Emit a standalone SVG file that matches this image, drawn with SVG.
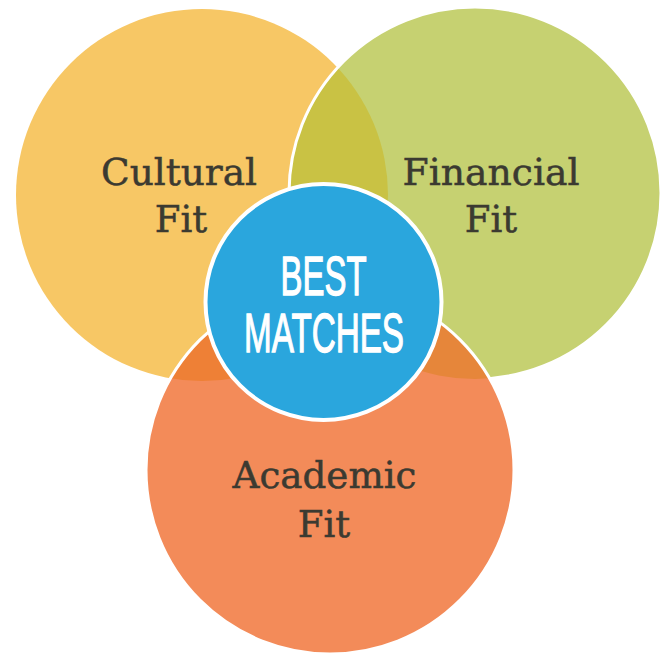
<svg xmlns="http://www.w3.org/2000/svg" width="667" height="657" viewBox="0 0 667 657">
<style>
.lbl{font-family:"DejaVu Serif","Liberation Serif",serif;font-size:37px;fill:#3b3a31;stroke:#3b3a31;stroke-width:0.5;text-anchor:middle}
.ctr{font-family:"Liberation Sans","DejaVu Sans",sans-serif;font-size:56px;fill:#ffffff;stroke:#ffffff;stroke-width:1.3;text-anchor:middle}
.edge{fill:none;stroke:#ffffff;stroke-width:3}
</style>
<defs>
<clipPath id="clipF"><circle cx="475" cy="193" r="186"/></clipPath>
<clipPath id="clipA"><circle cx="330" cy="470" r="184"/></clipPath>
</defs>
<rect width="667" height="657" fill="#ffffff"/>
<g id="cultural">
<circle cx="202" cy="195" r="186" fill="#f7c765"/>
<text class="lbl" x="179" y="185" textLength="156" lengthAdjust="spacingAndGlyphs">Cultural</text>
<text class="lbl" x="181" y="232">Fit</text>
</g>
<g id="financial">
<circle cx="475" cy="193" r="186" fill="#c6d171"/>
<circle cx="202" cy="195" r="186" fill="#c9c244" clip-path="url(#clipF)"/>
<circle class="edge" cx="475" cy="193" r="186"/>
<text class="lbl" x="491" y="185" textLength="177" lengthAdjust="spacingAndGlyphs">Financial</text>
<text class="lbl" x="491" y="232">Fit</text>
</g>
<g id="academic">
<circle cx="330" cy="470" r="184" fill="#f38b59"/>
<circle cx="202" cy="195" r="186" fill="#ee8036" clip-path="url(#clipA)"/>
<circle cx="475" cy="193" r="186" fill="#e6863a" clip-path="url(#clipA)"/>
<circle class="edge" cx="330" cy="470" r="184"/>
<text class="lbl" x="324.5" y="488" textLength="184" lengthAdjust="spacingAndGlyphs">Academic</text>
<text class="lbl" x="324" y="537">Fit</text>
</g>
<g id="best-matches">
<circle cx="323.5" cy="302" r="118" fill="#2aa6dd" stroke="#ffffff" stroke-width="4"/>
<text class="ctr" x="323.5" y="295" textLength="86" lengthAdjust="spacingAndGlyphs">BEST</text>
<text class="ctr" x="324" y="352" textLength="160" lengthAdjust="spacingAndGlyphs">MATCHES</text>
</g>
<g id="connectors"/>
</svg>
